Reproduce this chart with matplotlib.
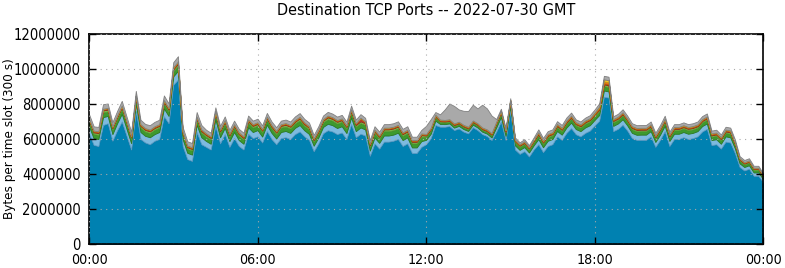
import numpy as np
import matplotlib
matplotlib.use("Agg")
from matplotlib import pyplot as plt

# values in millions of bytes per 300 s slot, one value every 10 minutes
blue = [6.3, 5.66, 5.6, 6.8, 6.9, 5.9, 6.5, 7.0, 6.2, 5.4, 7.6, 6.0,
        5.8, 5.7, 5.9, 6.0, 7.3, 6.9, 9.1, 9.4, 5.6, 4.85, 4.75, 6.4,
        5.7, 5.55, 5.4, 6.75, 5.75, 6.28, 5.55, 6.05, 5.6, 5.4, 6.3, 6.05,
        6.15, 5.8, 6.45, 6.0, 5.7, 6.05, 6.1, 6.0, 6.28, 6.43, 6.15, 5.95,
        5.3, 5.75, 6.33, 6.5, 6.43, 6.28, 6.37, 6.0, 6.85, 6.1, 6.3, 6.2,
        5.04, 5.75, 5.45, 5.85, 5.85, 5.9, 6.0, 5.6, 5.75, 5.2, 5.2, 5.55,
        5.7, 6.04, 6.8, 6.7, 6.7, 6.74, 6.51, 6.6, 6.42, 6.32, 6.67, 6.51,
        6.28, 6.17, 5.94, 6.42, 7.0, 5.94, 7.6, 5.4, 5.15, 5.3, 5.0, 5.4,
        5.7, 5.25, 5.6, 5.7, 6.15, 5.95, 6.35, 6.62, 6.27, 6.15, 6.35, 6.48,
        6.77, 7.04, 8.41, 8.37, 6.45, 6.58, 6.81, 6.48, 6.05, 5.95, 5.95, 5.95,
        6.15, 5.55, 5.95, 6.45, 5.6, 6.0, 6.0, 6.1, 6.0, 6.05, 6.15, 6.43,
        6.58, 5.65, 5.7, 5.45, 5.85, 5.8, 5.19, 4.4, 4.2, 4.3, 3.9, 3.9,
        3.55]
light_blue = [0.42, 0.38, 0.40, 0.45, 0.42, 0.38, 0.40, 0.44, 0.40, 0.36, 0.42, 0.40,
              0.38, 0.40, 0.38, 0.40, 0.45, 0.42, 0.48, 0.50, 0.40, 0.36, 0.36, 0.42,
              0.40, 0.34, 0.33, 0.38, 0.35, 0.36, 0.33, 0.35, 0.34, 0.33, 0.37, 0.35,
              0.36, 0.34, 0.37, 0.35, 0.33, 0.35, 0.36, 0.35, 0.36, 0.37, 0.35, 0.34,
              0.32, 0.34, 0.36, 0.37, 0.36, 0.35, 0.36, 0.34, 0.38, 0.35, 0.36, 0.35,
              0.30, 0.34, 0.33, 0.35, 0.35, 0.35, 0.36, 0.34, 0.34, 0.32, 0.32, 0.33,
              0.25, 0.26, 0.25, 0.16, 0.15, 0.15, 0.14, 0.15, 0.15, 0.14, 0.15, 0.15,
              0.14, 0.14, 0.15, 0.24, 0.26, 0.24, 0.27, 0.24, 0.23, 0.24, 0.23, 0.24,
              0.30, 0.28, 0.30, 0.30, 0.31, 0.30, 0.31, 0.32, 0.30, 0.30, 0.31, 0.31,
              0.32, 0.33, 0.36, 0.35, 0.30, 0.31, 0.32, 0.30, 0.30, 0.29, 0.30, 0.30,
              0.30, 0.28, 0.30, 0.31, 0.29, 0.30, 0.30, 0.30, 0.30, 0.30, 0.30, 0.31,
              0.31, 0.29, 0.29, 0.28, 0.30, 0.30, 0.27, 0.21, 0.20, 0.20, 0.19, 0.19,
              0.17]
green = [0.25, 0.24, 0.24, 0.27, 0.26, 0.24, 0.25, 0.27, 0.25, 0.23, 0.26, 0.25,
         0.24, 0.24, 0.25, 0.25, 0.27, 0.26, 0.28, 0.28, 0.24, 0.23, 0.23, 0.26,
         0.25, 0.24, 0.24, 0.26, 0.25, 0.25, 0.24, 0.25, 0.24, 0.24, 0.26, 0.25,
         0.25, 0.24, 0.26, 0.25, 0.24, 0.25, 0.25, 0.25, 0.25, 0.26, 0.25, 0.25,
         0.23, 0.24, 0.25, 0.26, 0.26, 0.25, 0.25, 0.25, 0.26, 0.25, 0.25, 0.25,
         0.22, 0.24, 0.24, 0.25, 0.25, 0.25, 0.25, 0.24, 0.24, 0.23, 0.23, 0.24,
         0.18, 0.18, 0.18, 0.11, 0.10, 0.10, 0.10, 0.10, 0.10, 0.10, 0.10, 0.10,
         0.10, 0.10, 0.11, 0.17, 0.19, 0.17, 0.19, 0.17, 0.17, 0.17, 0.16, 0.17,
         0.20, 0.19, 0.20, 0.20, 0.21, 0.20, 0.21, 0.21, 0.20, 0.20, 0.21, 0.21,
         0.21, 0.22, 0.25, 0.25, 0.20, 0.20, 0.21, 0.20, 0.20, 0.20, 0.20, 0.20,
         0.20, 0.19, 0.20, 0.21, 0.19, 0.20, 0.20, 0.20, 0.20, 0.20, 0.20, 0.21,
         0.21, 0.19, 0.19, 0.19, 0.20, 0.20, 0.18, 0.15, 0.14, 0.14, 0.13, 0.13,
         0.12]
light_green = [0.10, 0.10, 0.10, 0.11, 0.10, 0.10, 0.10, 0.11, 0.10, 0.09, 0.10, 0.10,
               0.10, 0.10, 0.10, 0.10, 0.11, 0.10, 0.12, 0.12, 0.10, 0.09, 0.09, 0.10,
               0.10, 0.10, 0.09, 0.11, 0.10, 0.10, 0.10, 0.10, 0.10, 0.09, 0.10, 0.10,
               0.10, 0.10, 0.10, 0.10, 0.10, 0.10, 0.10, 0.10, 0.10, 0.11, 0.10, 0.10,
               0.09, 0.10, 0.10, 0.11, 0.10, 0.10, 0.10, 0.10, 0.11, 0.10, 0.10, 0.10,
               0.09, 0.10, 0.10, 0.10, 0.10, 0.10, 0.10, 0.10, 0.10, 0.09, 0.09, 0.10,
               0.07, 0.07, 0.07, 0.05, 0.05, 0.05, 0.05, 0.05, 0.05, 0.05, 0.05, 0.05,
               0.05, 0.05, 0.05, 0.07, 0.07, 0.07, 0.08, 0.07, 0.07, 0.07, 0.07, 0.07,
               0.08, 0.08, 0.08, 0.08, 0.08, 0.08, 0.08, 0.08, 0.08, 0.08, 0.08, 0.08,
               0.08, 0.09, 0.10, 0.10, 0.08, 0.08, 0.08, 0.08, 0.08, 0.08, 0.08, 0.08,
               0.08, 0.08, 0.08, 0.08, 0.08, 0.08, 0.08, 0.08, 0.08, 0.08, 0.08, 0.08,
               0.08, 0.08, 0.08, 0.08, 0.08, 0.08, 0.07, 0.06, 0.06, 0.06, 0.06, 0.06,
               0.05]
red = [0.04, 0.04, 0.04, 0.04, 0.04, 0.04, 0.04, 0.04, 0.04, 0.04, 0.04, 0.04,
       0.04, 0.04, 0.04, 0.04, 0.04, 0.04, 0.05, 0.05, 0.04, 0.04, 0.04, 0.04,
       0.04, 0.04, 0.04, 0.04, 0.04, 0.04, 0.04, 0.04, 0.04, 0.04, 0.04, 0.04,
       0.04, 0.04, 0.04, 0.04, 0.04, 0.04, 0.04, 0.04, 0.04, 0.04, 0.04, 0.04,
       0.04, 0.04, 0.04, 0.04, 0.04, 0.04, 0.04, 0.04, 0.04, 0.05, 0.15, 0.05,
       0.04, 0.04, 0.04, 0.04, 0.04, 0.04, 0.04, 0.04, 0.04, 0.04, 0.04, 0.04,
       0.03, 0.03, 0.03, 0.03, 0.03, 0.03, 0.03, 0.03, 0.03, 0.03, 0.03, 0.03,
       0.03, 0.03, 0.03, 0.03, 0.03, 0.03, 0.03, 0.03, 0.03, 0.03, 0.03, 0.03,
       0.04, 0.04, 0.04, 0.04, 0.04, 0.04, 0.04, 0.04, 0.04, 0.04, 0.04, 0.04,
       0.04, 0.04, 0.05, 0.05, 0.04, 0.04, 0.04, 0.04, 0.04, 0.04, 0.04, 0.04,
       0.04, 0.04, 0.04, 0.04, 0.04, 0.04, 0.04, 0.04, 0.04, 0.04, 0.04, 0.04,
       0.04, 0.04, 0.04, 0.04, 0.04, 0.04, 0.04, 0.03, 0.03, 0.03, 0.03, 0.03,
       0.03]
orange = [0.05, 0.05, 0.05, 0.05, 0.05, 0.05, 0.05, 0.05, 0.05, 0.05, 0.05, 0.05,
          0.05, 0.05, 0.05, 0.05, 0.05, 0.05, 0.06, 0.06, 0.05, 0.05, 0.05, 0.05,
          0.05, 0.05, 0.05, 0.05, 0.05, 0.05, 0.05, 0.05, 0.05, 0.05, 0.05, 0.05,
          0.05, 0.05, 0.05, 0.05, 0.05, 0.05, 0.05, 0.05, 0.05, 0.05, 0.05, 0.05,
          0.05, 0.05, 0.05, 0.05, 0.05, 0.05, 0.05, 0.05, 0.05, 0.05, 0.05, 0.05,
          0.05, 0.05, 0.05, 0.05, 0.05, 0.05, 0.05, 0.05, 0.05, 0.05, 0.05, 0.05,
          0.05, 0.05, 0.05, 0.05, 0.05, 0.05, 0.05, 0.05, 0.05, 0.05, 0.05, 0.05,
          0.05, 0.05, 0.05, 0.05, 0.05, 0.05, 0.05, 0.05, 0.05, 0.05, 0.05, 0.05,
          0.05, 0.05, 0.05, 0.05, 0.05, 0.05, 0.05, 0.05, 0.05, 0.05, 0.05, 0.05,
          0.06, 0.08, 0.12, 0.12, 0.05, 0.05, 0.05, 0.05, 0.05, 0.05, 0.05, 0.05,
          0.05, 0.05, 0.05, 0.05, 0.05, 0.05, 0.05, 0.05, 0.05, 0.05, 0.05, 0.05,
          0.05, 0.05, 0.05, 0.05, 0.05, 0.05, 0.05, 0.04, 0.04, 0.04, 0.04, 0.04,
          0.04]
yellow = [0.01, 0.01, 0.01, 0.01, 0.01, 0.01, 0.01, 0.01, 0.01, 0.01, 0.01, 0.01,
          0.01, 0.01, 0.01, 0.01, 0.01, 0.01, 0.02, 0.02, 0.01, 0.01, 0.01, 0.01,
          0.01, 0.01, 0.01, 0.01, 0.01, 0.01, 0.01, 0.01, 0.01, 0.01, 0.01, 0.01,
          0.01, 0.01, 0.01, 0.01, 0.01, 0.01, 0.01, 0.01, 0.01, 0.01, 0.01, 0.01,
          0.01, 0.01, 0.01, 0.01, 0.01, 0.01, 0.01, 0.01, 0.01, 0.01, 0.01, 0.01,
          0.01, 0.01, 0.01, 0.01, 0.01, 0.01, 0.01, 0.01, 0.01, 0.01, 0.01, 0.01,
          0.01, 0.01, 0.01, 0.01, 0.01, 0.01, 0.01, 0.01, 0.01, 0.01, 0.01, 0.01,
          0.01, 0.01, 0.01, 0.01, 0.01, 0.01, 0.01, 0.01, 0.01, 0.01, 0.01, 0.01,
          0.02, 0.02, 0.02, 0.02, 0.02, 0.02, 0.02, 0.02, 0.02, 0.02, 0.02, 0.02,
          0.03, 0.06, 0.12, 0.12, 0.02, 0.02, 0.02, 0.02, 0.02, 0.02, 0.02, 0.02,
          0.02, 0.02, 0.02, 0.02, 0.02, 0.02, 0.02, 0.02, 0.02, 0.02, 0.02, 0.02,
          0.02, 0.02, 0.02, 0.02, 0.02, 0.02, 0.02, 0.01, 0.01, 0.01, 0.01, 0.01,
          0.01]
gray = [0.25, 0.24, 0.25, 0.26, 0.25, 0.24, 0.25, 0.26, 0.25, 0.24, 0.27, 0.25,
        0.24, 0.25, 0.25, 0.25, 0.26, 0.25, 0.28, 0.30, 0.25, 0.24, 0.24, 0.26,
        0.25, 0.20, 0.20, 0.21, 0.20, 0.20, 0.20, 0.20, 0.20, 0.20, 0.21, 0.20,
        0.20, 0.20, 0.21, 0.20, 0.20, 0.20, 0.20, 0.20, 0.20, 0.21, 0.20, 0.20,
        0.19, 0.20, 0.20, 0.21, 0.20, 0.20, 0.20, 0.20, 0.21, 0.20, 0.20, 0.20,
        0.19, 0.20, 0.20, 0.20, 0.20, 0.20, 0.20, 0.20, 0.20, 0.19, 0.19, 0.20,
        0.46, 0.49, 0.15, 0.30, 0.60, 0.90, 1.00, 0.70, 0.80, 0.90, 0.90, 0.85,
        1.30, 1.20, 1.00, 0.15, 0.12, 0.12, 0.10, 0.12, 0.10, 0.12, 0.10, 0.12,
        0.16, 0.15, 0.16, 0.16, 0.16, 0.16, 0.17, 0.17, 0.16, 0.16, 0.16, 0.17,
        0.17, 0.18, 0.20, 0.20, 0.16, 0.16, 0.17, 0.16, 0.16, 0.16, 0.16, 0.16,
        0.16, 0.15, 0.16, 0.17, 0.15, 0.16, 0.16, 0.16, 0.16, 0.16, 0.16, 0.17,
        0.17, 0.16, 0.16, 0.15, 0.16, 0.16, 0.15, 0.12, 0.12, 0.12, 0.11, 0.11,
        0.08]

layers = [blue, light_blue, green, light_green, red, orange, yellow, gray]
colors = ['#0081b1', '#7dbadf', '#3d9a2e', '#7fbf4a', '#c0392b', '#e8731a', '#f7c52a', '#a9a9a9']
edges = ['#00608a', '#5a9cc6', '#2c7a20', '#5e9a35', '#902a20', '#b85a10', '#c89a10', '#808080']
tick_labels = ['00:00', '06:00', '12:00', '18:00', '00:00']

plt.rcParams['font.family'] = 'DejaVu Sans'
plt.rcParams['font.stretch'] = 'condensed'
plt.rcParams['font.size'] = 10.5

hours = np.arange(len(blue)) / 6.0
values = np.array(layers) * 1e6

fig = plt.figure(figsize=(7.85, 2.68), dpi=100)
ax = fig.add_axes([89 / 785, 1 - 244 / 268, 674 / 785, 210 / 268])
polys = ax.stackplot(hours, values, colors=colors, linewidth=0.6)
for p, ec in zip(polys, edges):
    p.set_edgecolor(ec)

ax.set_xlim(0, 24)
ax.set_ylim(0, 12000000)
ax.set_xticks([0, 6, 12, 18, 24])
ax.set_xticklabels(tick_labels, fontsize=10.2)
ax.set_yticks(np.arange(0, 12000001, 2000000))
ax.ticklabel_format(style='plain', axis='y', useOffset=False)
ax.tick_params(direction='in', top=True, right=True, length=5, width=1)
ax.tick_params(axis='x', pad=6.5)
ax.tick_params(axis='y', pad=6)
ax.grid(True, linestyle=(0, (1, 4)), color='#aaaaaa', linewidth=0.8)
ax.set_axisbelow(False)
for s in ax.spines.values():
    s.set_linewidth(1.2)
ax.set_ylabel('Bytes per time slot (300 s)', fontsize=9.6)
ax.yaxis.set_label_coords(-0.108, 0.5)
ax.set_title('Destination TCP Ports -- 2022-07-30 GMT', fontsize=11.6, pad=14)

fig.savefig('out.png', dpi=100)
